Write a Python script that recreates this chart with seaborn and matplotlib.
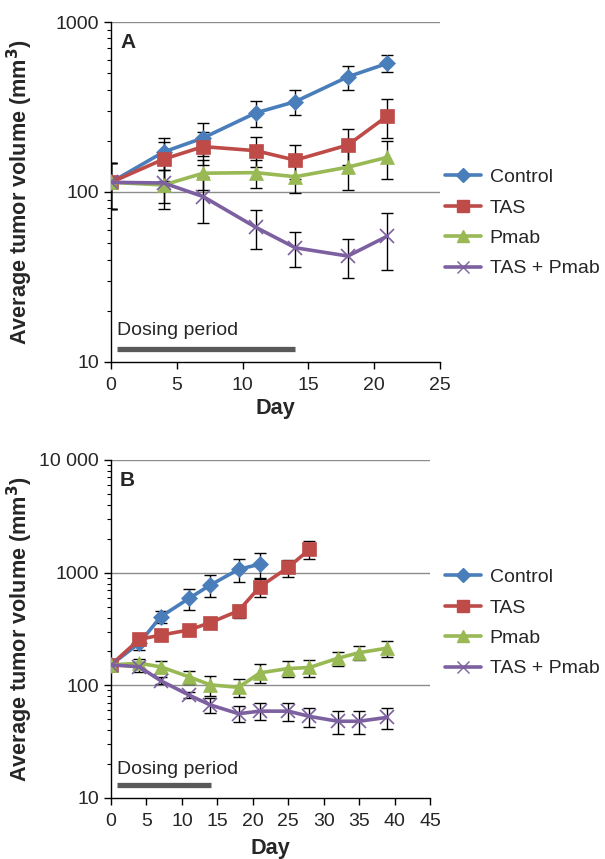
import matplotlib
matplotlib.use("Agg")
import matplotlib.pyplot as plt
import matplotlib.ticker as mticker
import matplotlib.transforms as mtrans
from matplotlib.lines import Line2D
import numpy as np
import pandas as pd
import seaborn as sns

# ---------------- data ----------------
groups = ["Control", "TAS", "Pmab", "TAS + Pmab"]

# Panel A
days_A = [0, 4, 7, 11, 14, 18, 21]
ctrl_A = [114, 172, 208, 292, 340, 476, 571]
ctrl_A_err = [35, 37, 45, 52, 58, 77, 65]
tas_A = [114, 156, 185, 175, 154, 189, 280]
tas_A_err = [35, 40, 40, 35, 35, 45, 72]
pmab_A = [114, 110, 129, 130, 123, 140, 160]
pmab_A_err = [35, 24, 26, 25, 25, 37, 40]
combo_A = [114, 113, 94, 62, 47, 42, 55]
combo_A_err = [35, 34, 28, 16, 11, 11, 20]

# Panel B
days_B_ctrl = [0, 4, 7, 11, 14, 18, 21]
ctrl_B = [152, 237, 406, 591, 776, 1069, 1191]
ctrl_B_err = [12, 30, 50, 125, 170, 250, 310]
days_B_tas = [0, 4, 7, 11, 14, 18, 21, 25, 28]
tas_B = [152, 256, 279, 310, 360, 459, 750, 1114, 1610]
tas_B_err = [12, 20, 20, 25, 30, 60, 140, 190, 290]
days_B_long = [0, 4, 7, 11, 14, 18, 21, 25, 28, 32, 35, 39]
pmab_B = [152, 157, 146, 119, 101, 96, 129, 141, 144, 174, 195, 214]
pmab_B_err = [12, 15, 17, 16, 21, 18, 25, 23, 25, 25, 28, 35]
combo_B = [152, 146, 110, 82, 67, 56, 59, 59, 53, 48, 48, 52]
combo_B_err = [12, 15, 8, 5, 10, 9, 10, 11, 10, 11, 11, 11]

ytick_vals_A = [10, 100, 1000]
ytick_labels_A = ["10", "100", "1000"]
ytick_vals_B = [10, 100, 1000, 10000]
ytick_labels_B = ["10", "100", "1000", "10 000"]
xticks_A = [0, 5, 10, 15, 20, 25]
xticks_B = [0, 5, 10, 15, 20, 25, 30, 35, 40, 45]
dosing_A = (0.45, 14)
dosing_B = (0.85, 14.1)

# ---------------- style ----------------
sns.set_style("ticks")
plt.rcParams["font.family"] = ["Liberation Sans", "DejaVu Sans"]

colors = {"Control": "#4A7EBB", "TAS": "#BE4B48", "Pmab": "#98B954", "TAS + Pmab": "#7D60A0"}
markers = {"Control": "D", "TAS": "s", "Pmab": "^", "TAS + Pmab": "x"}
msizes = {"Control": 8.5, "TAS": 9.5, "Pmab": 9.5, "TAS + Pmab": 9.5}

FS = 14
FSL = 15.6

fig = plt.figure(figsize=(6.05, 8.59), dpi=100)
axA = fig.add_axes([111 / 605, 1 - 362 / 859, 329 / 605, 340 / 859])
axB = fig.add_axes([111 / 605, 1 - 798 / 859, 319 / 605, 338 / 859])


def build_df(series):
    rows = []
    for name, days, vals, errs in series:
        for d, v, e in zip(days, vals, errs):
            rows.append({"day": d, "vol": v, "err": e, "group": name})
    return pd.DataFrame(rows)


def draw_panel(ax, df, xlim, xticks, yvals, ylabels, letter, dosing, legend_y,
               xlabelpad, dose_text_y):
    for g in groups:
        sub = df[df.group == g]
        ax.errorbar(sub.day, sub.vol, yerr=sub.err, fmt="none", ecolor="black",
                    elinewidth=1.0, capsize=4, capthick=1.0, zorder=2)
    for g in groups:
        sub = df[df.group == g]
        sns.lineplot(data=sub, x="day", y="vol", ax=ax, color=colors[g],
                     marker=markers[g], markersize=msizes[g],
                     markeredgecolor=colors[g], markeredgewidth=1.2 if g == "TAS + Pmab" else 0.5,
                     linewidth=2.6, zorder=3, legend=False, errorbar=None)
    ax.set_yscale("log")
    ax.set_ylim(yvals[0], yvals[-1])
    ax.set_xlim(*xlim)
    ax.set_xticks(xticks)
    ax.set_xticklabels([str(t) for t in xticks], fontsize=FS)
    ax.yaxis.set_major_locator(mticker.FixedLocator(yvals))
    ax.yaxis.set_major_formatter(mticker.FixedFormatter(ylabels))
    ax.yaxis.set_minor_locator(mticker.LogLocator(base=10, subs=np.arange(2, 10)))
    ax.yaxis.set_minor_formatter(mticker.NullFormatter())
    ax.tick_params(axis="y", which="major", labelsize=FS, length=5, width=1, direction="out", color="black")
    ax.tick_params(axis="y", which="minor", length=3, width=0.8, direction="out", color="black")
    ax.tick_params(axis="x", which="major", labelsize=FS, length=5, width=1, direction="out",
                   color="black", pad=6)
    for yv in yvals[1:]:
        ax.axhline(yv, color="#8C8C8C", linewidth=1.0, zorder=1)
    for s in ["top", "right"]:
        ax.spines[s].set_visible(False)
    for s in ["left", "bottom"]:
        ax.spines[s].set_color("black")
        ax.spines[s].set_linewidth(1.0)
    ax.set_xlabel("Day", fontsize=FSL, fontweight="bold", labelpad=xlabelpad)
    ax.set_ylabel("Average tumor volume (mm$^\\mathbf{3}$)", fontsize=FSL, fontweight="bold")
    ax.text(0.028, 0.94, letter, transform=ax.transAxes, fontsize=15, fontweight="bold",
            va="center", ha="left")
    trans = mtrans.blended_transform_factory(ax.transData, ax.transAxes)
    ax.plot([dosing[0], dosing[1]], [0.037, 0.037], transform=trans, color="#595959",
            linewidth=3.8, solid_capstyle="butt", clip_on=False, zorder=4)
    ax.text(0.018, dose_text_y, "Dosing period", transform=ax.transAxes, fontsize=FS,
            va="center", ha="left")
    handles = [Line2D([0], [0], color=colors[g], marker=markers[g], markersize=msizes[g] * 0.85,
                      markeredgecolor=colors[g], markeredgewidth=1.0, linewidth=2.6) for g in groups]
    fig.legend(handles, groups, loc="center left", bbox_to_anchor=(445 / 605, legend_y),
               frameon=False, fontsize=FS, handlelength=1.85, handletextpad=0.45,
               labelspacing=0.66, borderpad=0, borderaxespad=0)


dfA = build_df([("Control", days_A, ctrl_A, ctrl_A_err),
                ("TAS", days_A, tas_A, tas_A_err),
                ("Pmab", days_A, pmab_A, pmab_A_err),
                ("TAS + Pmab", days_A, combo_A, combo_A_err)])
dfB = build_df([("Control", days_B_ctrl, ctrl_B, ctrl_B_err),
                ("TAS", days_B_tas, tas_B, tas_B_err),
                ("Pmab", days_B_long, pmab_B, pmab_B_err),
                ("TAS + Pmab", days_B_long, combo_B, combo_B_err)])

draw_panel(axA, dfA, (0, 25), xticks_A, ytick_vals_A, ytick_labels_A, "A", dosing_A,
           1 - 223 / 859, 3, 0.092)
draw_panel(axB, dfB, (0, 45), xticks_B, ytick_vals_B, ytick_labels_B, "B", dosing_B,
           1 - 623 / 859, 5.5, 0.083)
axA.yaxis.set_label_coords(-0.232, 0.5)
axB.yaxis.set_label_coords(-0.239, 0.5)

fig.savefig("out.png", dpi=100)
